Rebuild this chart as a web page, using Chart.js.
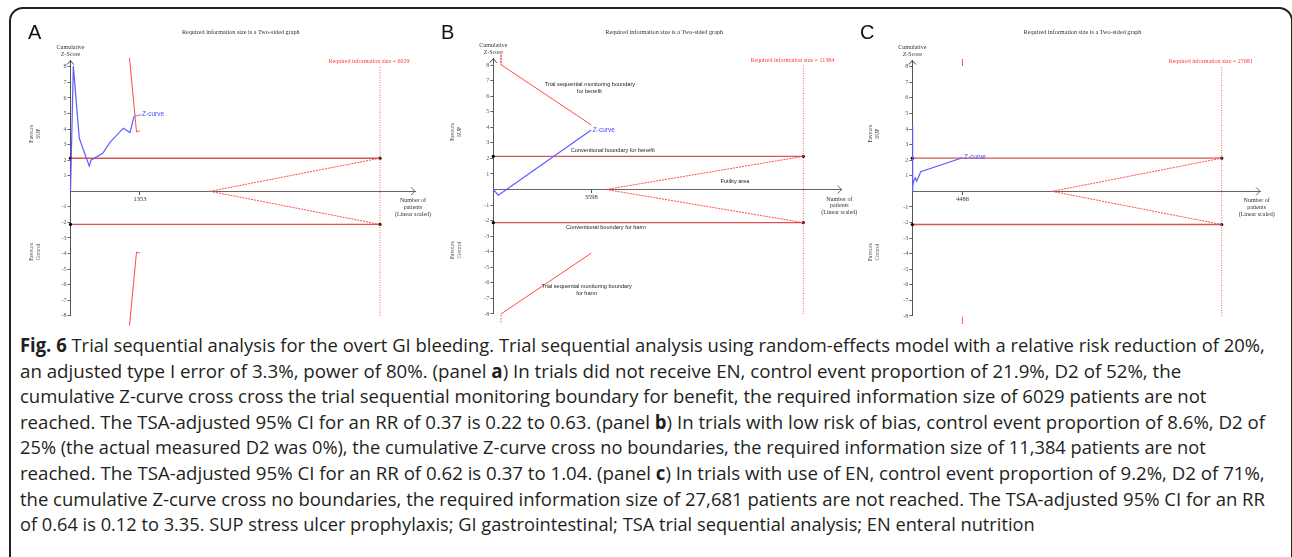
<!DOCTYPE html>
<html>
<head>
<meta charset="utf-8">
<script src="https://cdn.jsdelivr.net/npm/chart.js@4.4.1/dist/chart.umd.min.js"></script>
<style>
body{margin:0;width:1292px;height:557px;overflow:hidden;background:#fff;position:relative;}
#frame{position:absolute;left:9px;top:7px;width:1280px;height:570px;border:2px solid #222;border-radius:14px;}
canvas{position:absolute;top:0;}
.cap{position:absolute;left:20px;white-space:nowrap;font-family:'Open Sans';font-size:19px;line-height:25.6px;color:#231f20;transform-origin:0 50%;}
.cap b{font-weight:700;}
</style>
</head>
<body>
<div id="frame"></div>
<canvas id="pA" width="442" height="330" style="left:0px"></canvas>
<canvas id="pB" width="442" height="330" style="left:430px"></canvas>
<canvas id="pC" width="442" height="330" style="left:850px"></canvas>

<div class="cap" data-end="1265"><b>Fig. 6</b> Trial sequential analysis for the overt GI bleeding. Trial sequential analysis using random-effects model with a relative risk reduction of 20%,</div>
<div class="cap" data-end="1181">an adjusted type I error of 3.3%, power of 80%. (panel <b>a</b>) In trials did not receive EN, control event proportion of 21.9%, D2 of 52%, the</div>
<div class="cap" data-end="1206">cumulative Z-curve cross cross the trial sequential monitoring boundary for benefit, the required information size of 6029 patients are not</div>
<div class="cap" data-end="1265">reached. The TSA-adjusted 95% CI for an RR of 0.37 is 0.22 to 0.63. (panel <b>b</b>) In trials with low risk of bias, control event proportion of 8.6%, D2 of</div>
<div class="cap" data-end="1206">25% (the actual measured D2 was 0%), the cumulative Z-curve cross no boundaries, the required information size of 11,384 patients are not</div>
<div class="cap" data-end="1265">reached. The TSA-adjusted 95% CI for an RR of 0.62 is 0.37 to 1.04. (panel <b>c</b>) In trials with use of EN, control event proportion of 9.2%, D2 of 71%,</div>
<div class="cap" data-end="1265">the cumulative Z-curve cross no boundaries, the required information size of 27,681 patients are not reached. The TSA-adjusted 95% CI for an RR</div>
<div class="cap" data-end="1035">of 0.64 is 0.12 to 3.35. SUP stress ulcer prophylaxis; GI gastrointestinal; TSA trial sequential analysis; EN enteral nutrition</div>

<script>
// values
var requiredSize = [6029, 11384, 27681];
var currentSize = [1353, 3598, 4486];
var futilityStart = [2717, 4136, 12503];
var convZ = 2.13;
var zTicks = [-8, -7, -6, -5, -4, -3, -2, -1, 1, 2, 3, 4, 5, 6, 7, 8];

// panel A
var zA_n = [0, 55, 171, 366, 399, 627, 769, 1029, 1159, 1237];
var zA_z = [0, 8.05, 3.41, 1.62, 2.0, 2.44, 3.15, 4.06, 3.78, 4.82];
var benA_n = [1149, 1286, 1350];
var benA_z = [8.58, 3.82, 3.89];
var harmA_n = [1149, 1286, 1350];
var harmA_z = [-8.64, -3.91, -3.97];

// panel B
var zB_n = [0, 184, 367, 3598];
var zB_z = [0, -0.37, -0.15, 3.83];
var benB_n = [283, 283, 3598];
var benB_z = [8.66, 8.02, 4.15];
var harmB_n = [283, 283, 3598];
var harmB_z = [-8.54, -8.0, -4.09];

// panel C
var zC_n = [0, 18, 45, 125, 268, 394, 752, 4486];
var zC_z = [0, 4.2, 0.3, 0.65, 0.87, 0.65, 1.26, 2.16];
var benC_n = [4486, 4486];
var benC_z = [8.49, 8.06];
var harmC_n = [4486, 4486];
var harmC_z = [-8.06, -8.48];

// page geometry of each panel (pixels)
var geo = [
  {left: 0,   x0: 70.5,  xRis: 380,    xEnd: 415,    zero: 191.3,  unit: 15.55},
  {left: 430, x0: 493.3, xRis: 803.3,  xEnd: 841.7,  zero: 189.5,  unit: 15.56},
  {left: 850, x0: 912.3, xRis: 1221.7, xEnd: 1260,   zero: 191.35, unit: 15.58}
];
var letters = ['A', 'B', 'C'];
var titleX = [240.8, 664.2, 1082.5];
var letterX = [28, 441, 860];
var favX = [36, 456.5, 875];
var npX = [413, 839.3, 1256.7];
var notes = [
  [],
  [
    ['Trial sequential monitoring boundary', 590, 84],
    ['for benefit', 589.3, 91.3],
    ['Conventional boundary for benefit', 612.7, 150.7],
    ['Futility area', 735, 181],
    ['Conventional boundary for harm', 606, 227.3],
    ['Trial sequential monitoring boundary', 586.7, 286],
    ['for harm', 586.7, 293.3]
  ],
  []
];

function pts(n, z) {
  return n.map(function (v, k) { return {x: v, y: z[k]}; });
}

var serif = 'Liberation Serif';
var sans = 'Liberation Sans';

function txt(ctx, s, x, y, size, fam, color, align) {
  ctx.font = size + 'px "' + fam + '"';
  ctx.fillStyle = color;
  ctx.textAlign = align || 'center';
  ctx.textBaseline = 'middle';
  ctx.fillText(s, x, y);
}

var tsaDecor = {
  id: 'tsaDecor',
  afterDraw: function (chart, args, opts) {
    var i = opts.panel, g = geo[i], L = g.left;
    var ctx = chart.ctx, xs = chart.scales.x, ys = chart.scales.y;
    var ax = xs.getPixelForValue(0), ay0 = ys.getPixelForValue(0);
    var top = ys.getPixelForValue(ys.max), right = xs.getPixelForValue(xs.max);
    ctx.save();
    ctx.lineWidth = 1;
    ctx.strokeStyle = '#444';
    ctx.beginPath(); ctx.moveTo(ax - 3.5, top + 4); ctx.lineTo(ax, top); ctx.lineTo(ax + 3.5, top + 4); ctx.stroke();
    ctx.strokeStyle = '#666';
    ctx.beginPath(); ctx.moveTo(right - 4, ay0 - 4); ctx.lineTo(right, ay0); ctx.lineTo(right - 4, ay0 + 4); ctx.stroke();

    txt(ctx, letters[i], letterX[i] - L, 33, 20, sans, '#111', 'left');
    txt(ctx, 'Required information size is a Two-sided graph', titleX[i] - L, 32, 6.2, serif, '#333');
    var risX = xs.getPixelForValue(requiredSize[i]);
    txt(ctx, 'Required information size = ' + requiredSize[i], risX - 11, ys.getPixelForValue(8) - 5, 6, serif, '#ff3b3b');
    txt(ctx, 'Cumulative', ax, top - 13.5, 6, serif, '#333');
    txt(ctx, 'Z-Score', ax, top - 6.5, 6, serif, '#333');
    txt(ctx, 'Number of', npX[i] - L, ay0 + 9.5, 6, serif, '#333');
    txt(ctx, 'patients', npX[i] - L, ay0 + 16.3, 6, serif, '#333');
    txt(ctx, '(Linear scaled)', npX[i] - L, ay0 + 23, 6, serif, '#333');

    var fx = favX[i] - L;
    [['Favours', 'SUP', ys.getPixelForValue(3.7)], ['Favours', 'Control', ys.getPixelForValue(-3.9)]].forEach(function (f) {
      ctx.save();
      ctx.translate(fx, f[2]);
      ctx.rotate(-Math.PI / 2);
      txt(ctx, f[0], 0, -4, 5.5, serif, '#444');
      txt(ctx, f[1], 0, 3, 5.5, serif, '#444');
      ctx.restore();
    });

    notes[i].forEach(function (nt) {
      txt(ctx, nt[0], nt[1] - L, nt[2], 5.6, sans, '#222');
    });

    // Z-curve label at the end of the curve
    var zc = chart.data.datasets[0].data;
    var last = zc[zc.length - 1];
    var lx = xs.getPixelForValue(last.x), ly = ys.getPixelForValue(last.y);
    ctx.strokeStyle = '#5c5cff';
    ctx.lineWidth = 0.8;
    var tx = lx + 1.5, ty = ly;
    if (i === 0) {
      ctx.beginPath(); ctx.moveTo(lx, ly); ctx.lineTo(lx + 7.5, ly - 1.7); ctx.stroke();
      tx = lx + 8; ty = ly - 1.7;
    }
    txt(ctx, 'Z-curve', tx, ty, 6.5, sans, '#4a4aff', 'left');
    ctx.restore();
  }
};

function outside(c) {
  return Math.abs(c.p0.parsed.y) >= 7.99 && Math.abs(c.p1.parsed.y) >= 7.99 ? [1.5, 1.5] : undefined;
}

function makePanel(i, id, zc, ben, harm) {
  var g = geo[i];
  var W = 442, H = 330;
  var cl = g.x0 - g.left, cr = g.xEnd - g.left;
  var ct = g.zero - 8.4 * g.unit, cb = g.zero + 8 * g.unit;
  var xMax = requiredSize[i] * (g.xEnd - g.x0) / (g.xRis - g.x0);
  var ris = requiredSize[i];
  var red = '#ff4a4a';
  new Chart(document.getElementById(id), {
    type: 'scatter',
    data: {
      datasets: [
        {data: zc, borderColor: '#5c5cff', borderWidth: 1.2},
        {data: ben, borderColor: red, borderWidth: 1, segment: {borderDash: outside}},
        {data: harm, borderColor: red, borderWidth: 1, segment: {borderDash: outside}},
        {data: pts([futilityStart[i], ris], [0, convZ]), borderColor: red, borderWidth: 1, borderDash: [2, 1]},
        {data: pts([futilityStart[i], ris], [0, -convZ]), borderColor: red, borderWidth: 1, borderDash: [2, 1]},
        {data: pts([ris, ris], [-8, 8]), borderColor: '#ff6262', borderWidth: 1, borderDash: [1, 1.5]},
        {data: pts([0, ris], [convZ, convZ]), borderColor: '#d95555', borderWidth: 1.4, pointRadius: 1.6, pointBackgroundColor: '#000', pointBorderWidth: 0},
        {data: pts([0, ris], [-convZ, -convZ]), borderColor: '#d95555', borderWidth: 1.4, pointRadius: 1.6, pointBackgroundColor: '#000', pointBorderWidth: 0}
      ]
    },
    options: {
      responsive: false,
      animation: false,
      clip: false,
      layout: {padding: {left: cl - 20, right: W - cr, top: ct, bottom: H - cb}},
      datasets: {scatter: {showLine: true, pointRadius: 0, tension: 0, clip: false}},
      plugins: {legend: {display: false}, tooltip: {enabled: false}, tsaDecor: {panel: i}},
      scales: {
        x: {
          type: 'linear', min: 0, max: xMax, position: {y: 0},
          afterFit: function (s) { s.height = 0; },
          afterBuildTicks: function (s) { s.ticks = [{value: currentSize[i]}]; },
          ticks: {font: {family: serif, size: 6.5}, color: '#333', padding: 1, maxRotation: 0, autoSkip: false,
            callback: function (v) { return String(v); }},
          grid: {drawOnChartArea: false, tickLength: 3, color: '#555'},
          border: {color: '#666', width: 1}
        },
        y: {
          type: 'linear', min: -8, max: 8.4, position: 'left',
          afterFit: function (s) { s.width = 20; },
          afterBuildTicks: function (s) { s.ticks = zTicks.map(function (v) { return {value: v}; }); },
          ticks: {font: {family: serif, size: 6}, color: '#555', padding: 1, autoSkip: false},
          grid: {drawOnChartArea: false, tickLength: 3, color: '#666'},
          border: {color: '#555', width: 1}
        }
      }
    },
    plugins: [tsaDecor]
  });
}

makePanel(0, 'pA', pts(zA_n, zA_z), pts(benA_n, benA_z), pts(harmA_n, harmA_z));
makePanel(1, 'pB', pts(zB_n, zB_z), pts(benB_n, benB_z), pts(harmB_n, harmB_z));
makePanel(2, 'pC', pts(zC_n, zC_z), pts(benC_n, benC_z), pts(harmC_n, harmC_z));

function fitCaption() {
  var lines = document.querySelectorAll('.cap');
  for (var k = 0; k < lines.length; k++) {
    var el = lines[k];
    el.style.top = (333.2 + k * 25.57) + 'px';
    el.style.transform = 'none';
    var w = el.offsetWidth;
    var target = parseFloat(el.getAttribute('data-end')) - 20;
    el.style.transform = 'scaleX(' + (target / w) + ')';
  }
}
fitCaption();
if (document.fonts && document.fonts.ready) document.fonts.ready.then(fitCaption);
</script>
</body>
</html>
